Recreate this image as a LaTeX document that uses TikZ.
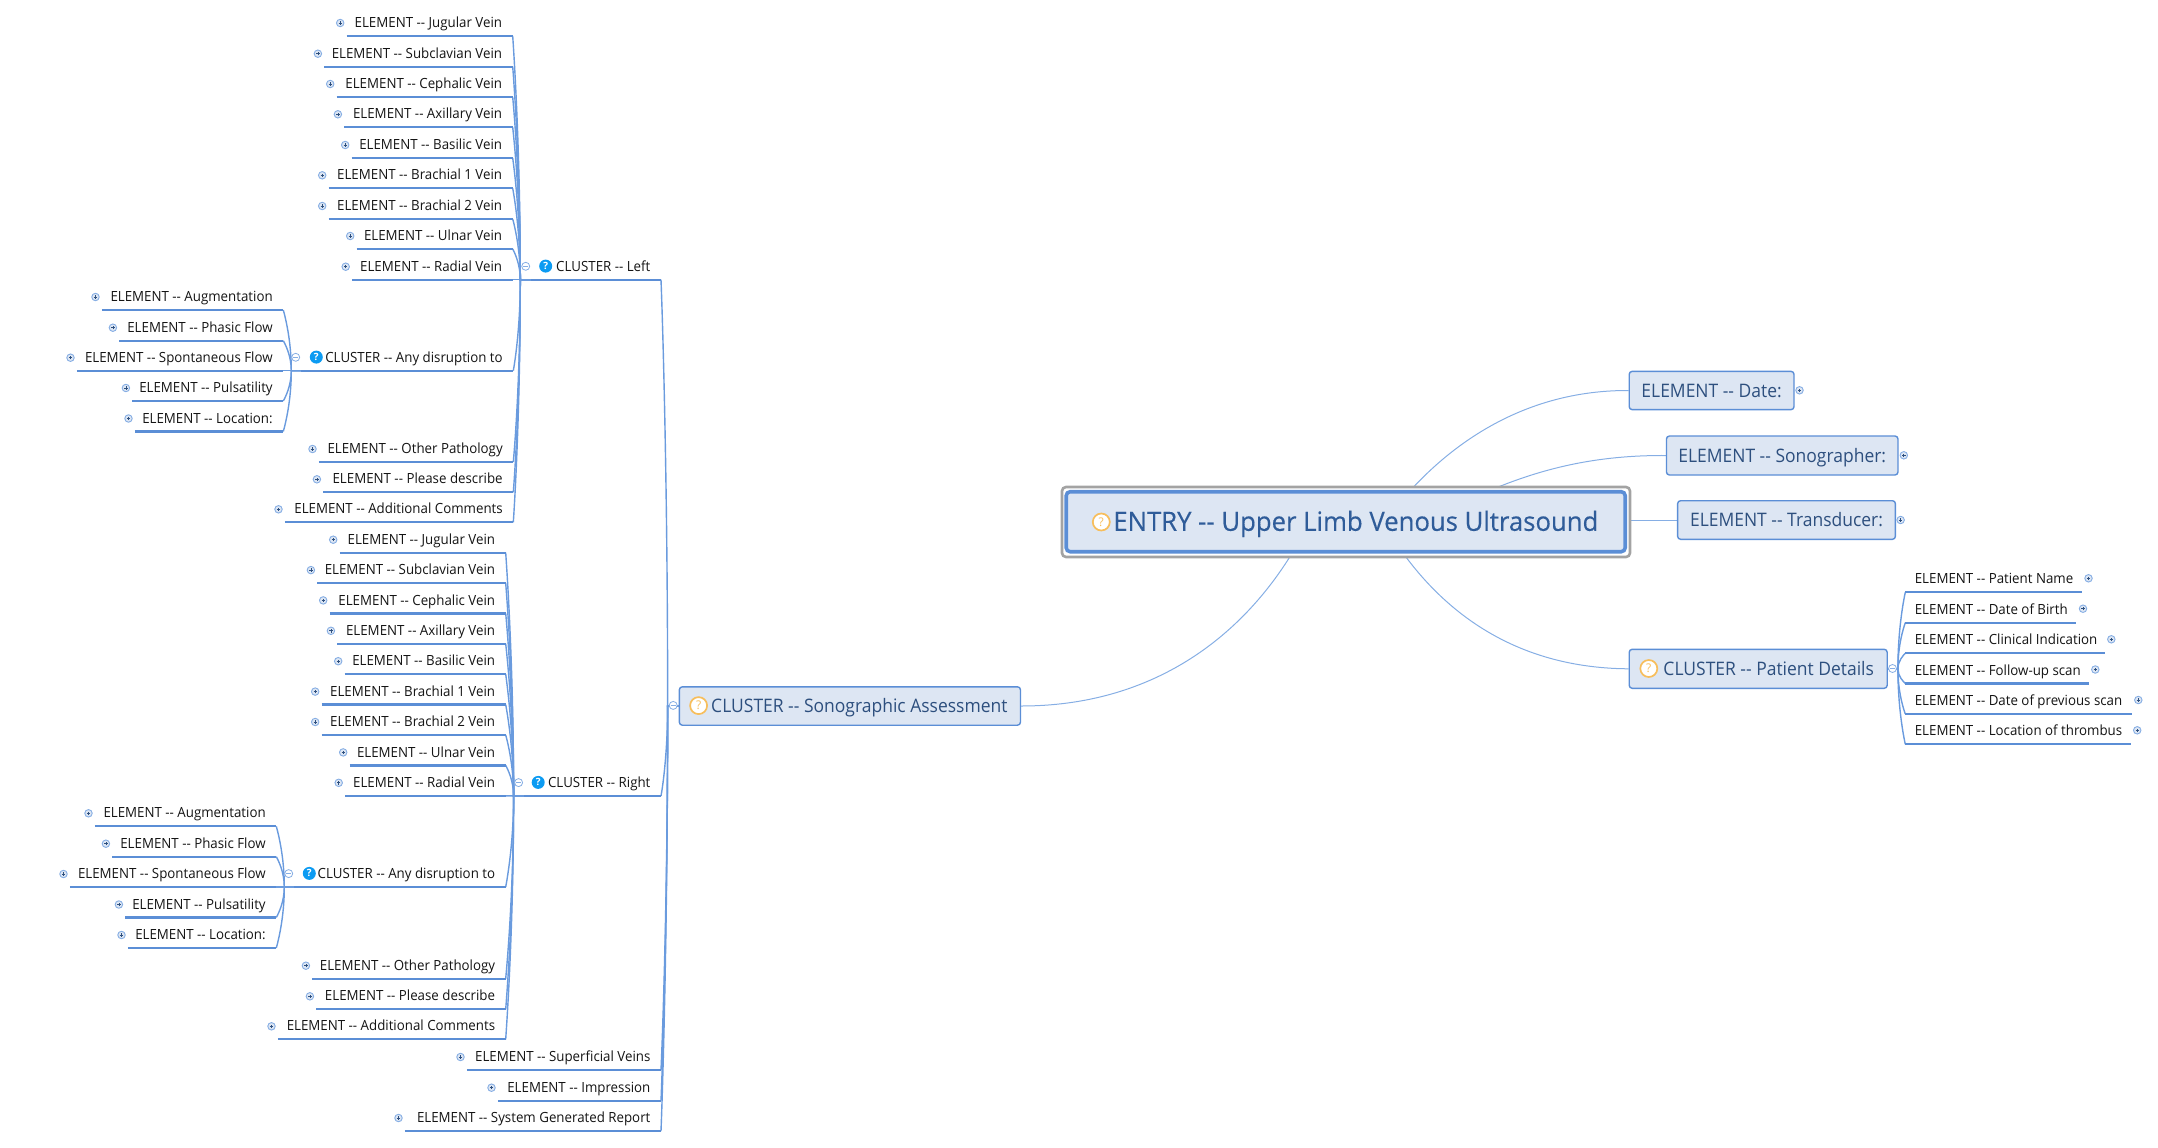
\documentclass[tikz,border=0pt]{standalone}
\usepackage{fontspec}
\setmainfont{Open Sans}
\newfontfamily\elemfont{Open Sans}[FakeStretch=0.95]
\newfontfamily\boxfont{Open Sans}[FakeStretch=0.94]
\newfontfamily\rootfont{Open Sans}[FakeStretch=0.97,FakeBold=0.35]
\usetikzlibrary{calc,backgrounds}
\definecolor{strokeb}{HTML}{5B8ED6}
\definecolor{connb}{HTML}{6A9BDE}
\definecolor{thinb}{HTML}{86AEE4}
\definecolor{boxfill}{HTML}{DDE6F3}
\definecolor{boxtext}{HTML}{2D4F7E}
\definecolor{roottext}{HTML}{2F5C99}
\definecolor{iconorange}{HTML}{F7BE5C}
\definecolor{iconblue}{HTML}{0C9BF2}
\definecolor{elemtext}{HTML}{141414}
\tikzset{
  x=1pt,y=-1pt,
  elem/.style={inner sep=0pt,inner xsep=10.4pt,text height=14pt,text depth=8.2pt,text=elemtext,font=\elemfont\fontsize{14}{16}\selectfont},
  elemL/.style={elem,anchor=south east},
  elemR/.style={elem,anchor=south west,inner xsep=9.3pt},
  uline/.style={draw=strokeb,line width=2.3pt},
  treeline/.style={draw=connb,line width=1.4pt},
  rootline/.style={draw=thinb,line width=1pt},
  plusicon/.style={circle,inner sep=0pt,minimum size=7.5pt,draw=thinb,line width=.9pt,fill=boxfill,
    path picture={\draw[draw=boxtext,line width=.7pt]
      ([xshift=-1.7pt]path picture bounding box.center)--([xshift=1.7pt]path picture bounding box.center)
      ([yshift=-1.7pt]path picture bounding box.center)--([yshift=1.7pt]path picture bounding box.center);}},
  minusicon/.style={circle,inner sep=0pt,minimum size=8pt,draw=thinb,line width=.8pt,fill=white,
    path picture={\draw[draw=thinb,line width=.8pt]
      ([xshift=-2.5pt]path picture bounding box.center)--([xshift=2.5pt]path picture bounding box.center);}},
  qblue/.style={circle,inner sep=0pt,minimum size=13pt,fill=iconblue,text=white,font=\fontsize{10}{10}\selectfont\bfseries},
  qorange/.style={circle,inner sep=0pt,minimum size=17pt,draw=iconorange,line width=1.7pt,fill=white,text=iconorange,font=\fontsize{12}{12}\selectfont},
  topbox/.style={rectangle,rounded corners=3pt,draw=strokeb,line width=1.4pt,fill=boxfill,text=boxtext,inner sep=0pt,text height=18pt,text depth=4.6pt,font=\boxfont\fontsize{18.6}{22}\selectfont},
  rootbox/.style={rectangle,rounded corners=4pt,draw=strokeb,line width=3.6pt,fill=boxfill,text=roottext,inner sep=0pt,text height=24pt,text depth=5.8pt,font=\rootfont\fontsize{26.5}{30}\selectfont},
  rootframe/.style={rectangle,rounded corners=4pt,draw=black!36,line width=2.6pt,fill=white,inner sep=0pt},
}
% left-growing element: name, text, left, right, underline y
\newcommand\lel[5]{%
  \pgfmathsetmacro\wid{#4-(#3)-20.8}%
  \node[elemL] (#1) at (#4,#5) {\makebox[\wid pt][r]{#2}};
  \draw[uline] (#1.south west)--(#1.south east);
  \node[plusicon] (#1i) at (#3-6.8,#5-13) {};
}
% right-growing element: name, text, left, right, underline y
\newcommand\rel[5]{%
  \pgfmathsetmacro\wid{#4-(#3)-18.6}%
  \node[elemR] (#1) at (#3,#5) {\makebox[\wid pt][l]{#2}};
  \draw[uline] (#1.south west)--(#1.south east);
  \node[plusicon] (#1i) at (#4+7,#5-14) {};
}
% left-growing cluster: name, text, left, right, y, blue-icon x
\newcommand\lcl[6]{%
  \pgfmathsetmacro\wid{#4-(#3)-20.8}%
  \node[elemL] (#1) at (#4,#5) {\makebox[\wid pt][r]{#2}};
  \draw[uline] (#1.south west)--(#1.south east);
  \node[qblue] (#1q) at (#6,#5-13.6) {?};
  \node[minusicon] (#1m) at (#3-6,#5-13.4) {};
}
% tree connector: from, to, trunk offset from start, end-bend offset
\newcommand\treeconn[4]{%
  \draw[treeline] let \p1=(#1),\p2=(#2) in
    (\p1)--(\x1+#3pt,\y1)
    .. controls (\x1+#3pt,{\y1+0.5*(\y2-\y1)}) and (\x2+#4pt,{\y2-0.12*(\y2-\y1)}) .. (\p2);
}
\begin{document}
\begin{tikzpicture}
\useasboundingbox (0,0) rectangle (2158,1148);
% root
\node[rootframe,minimum width=568pt,minimum height=70pt] (rootf) at (1346,522) {};
\node[rootbox,minimum width=559pt,minimum height=60pt] (root) at (1345.7,521.7) {\makebox[505.2pt][r]{ENTRY -{}- Upper Limb Venous Ultrasound}};
\node[qorange] (rootq) at (1101.3,522) {?};
% first-level boxes
\node[topbox,minimum width=164.8pt,minimum height=38.3pt] (date) at (1711.6,390.5) {ELEMENT -{}- Date:};
\node[plusicon] (datei) at (1799.5,390.3) {};
\node[topbox,minimum width=231.5pt,minimum height=39pt] (sono) at (1782.2,455.5) {ELEMENT -{}- Sonographer:};
\node[plusicon] (sonoi) at (1903.8,455.3) {};
\node[topbox,minimum width=217.8pt,minimum height=38.6pt] (trans) at (1786.5,520) {ELEMENT -{}- Transducer:};
\node[plusicon] (transi) at (1900.6,520) {};
\node[topbox,minimum width=258pt,minimum height=39pt] (pat) at (1758.2,668.8) {\makebox[231.6pt][r]{CLUSTER -{}- Patient Details}};
\node[qorange] (patq) at (1648.8,668.5) {?};
\node[minusicon] (patm) at (1892.5,668.5) {};
\node[topbox,minimum width=341.1pt,minimum height=38.4pt] (asse) at (849.9,706) {\makebox[315.2pt][r]{CLUSTER -{}- Sonographic Assessment}};
\node[qorange] (asseq) at (698.6,705.6) {?};
\node[minusicon] (assem) at (673.2,705.4) {};
% patient details children
\rel{pa}{ELEMENT -{}- Patient Name}{1905.3}{2081.5}{592.3}
\rel{pb}{ELEMENT -{}- Date of Birth}{1905.3}{2076}{622.7}
\rel{pc}{ELEMENT -{}- Clinical Indication}{1905.3}{2104.3}{653.3}
\rel{pd}{ELEMENT -{}- Follow-up scan}{1905.3}{2088.3}{683.5}
\rel{pe}{ELEMENT -{}- Date of previous scan}{1905.3}{2131.3}{714}
\rel{pf}{ELEMENT -{}- Location of thrombus}{1905.3}{2130.2}{744.3}
% left branch
\lcl{L}{CLUSTER -{}- Left}{531.7}{661}{279.7}{545.7}
\lel{la}{ELEMENT -{}- Jugular Vein}{347}{512.7}{36}
\lel{lb}{ELEMENT -{}- Subclavian Vein}{324.7}{512.7}{66.7}
\lel{lc}{ELEMENT -{}- Cephalic Vein}{337}{512.7}{97}
\lel{ld}{ELEMENT -{}- Axillary Vein}{344.7}{512.7}{127.3}
\lel{le}{ELEMENT -{}- Basilic Vein}{352}{512.7}{158}
\lel{lf}{ELEMENT -{}- Brachial 1 Vein}{329}{512.7}{188.3}
\lel{lg}{ELEMENT -{}- Brachial 2 Vein}{329}{512.7}{219}
\lel{lh}{ELEMENT -{}- Ulnar Vein}{357}{512.7}{249}
\lel{li}{ELEMENT -{}- Radial Vein}{352.5}{512.7}{279.7}
\lcl{LD}{CLUSTER -{}- Any disruption to}{301.7}{513.3}{370.7}{316.3}
\lel{lda}{ELEMENT -{}- Augmentation}{102.3}{283.3}{310}
\lel{ldb}{ELEMENT -{}- Phasic Flow}{119.7}{283.3}{340.7}
\lel{ldc}{ELEMENT -{}- Spontaneous Flow}{77.3}{283.3}{370.7}
\lel{ldd}{ELEMENT -{}- Pulsatility}{132.7}{283.3}{401}
\lel{lde}{ELEMENT -{}- Location:}{135.3}{283.3}{431.5}
\lel{lj}{ELEMENT -{}- Other Pathology}{319.3}{513.3}{462}
\lel{lk}{ELEMENT -{}- Please describe}{323.7}{513.3}{492.3}
\lel{ll}{ELEMENT -{}- Additional Comments}{285.3}{513.3}{522.3}
% right branch
\lcl{R}{CLUSTER -{}- Right}{524.6}{661}{796}{538.2}
\lel{ra}{ELEMENT -{}- Jugular Vein}{340}{505.7}{552.7}
\lel{rb}{ELEMENT -{}- Subclavian Vein}{317.7}{505.7}{583.1}
\lel{rc}{ELEMENT -{}- Cephalic Vein}{330}{505.7}{613.4}
\lel{rd}{ELEMENT -{}- Axillary Vein}{337.7}{505.7}{643.8}
\lel{re}{ELEMENT -{}- Basilic Vein}{345}{505.7}{674.2}
\lel{rf}{ELEMENT -{}- Brachial 1 Vein}{322}{505.7}{704.6}
\lel{rg}{ELEMENT -{}- Brachial 2 Vein}{322}{505.7}{735}
\lel{rh}{ELEMENT -{}- Ulnar Vein}{350}{505.7}{765.4}
\lel{ri}{ELEMENT -{}- Radial Vein}{345.5}{505.7}{795.8}
\lcl{RD}{CLUSTER -{}- Any disruption to}{294.7}{505.7}{887}{309.3}
\lel{rda}{ELEMENT -{}- Augmentation}{95.3}{276.3}{826.3}
\lel{rdb}{ELEMENT -{}- Phasic Flow}{112.7}{276.3}{856.7}
\lel{rdc}{ELEMENT -{}- Spontaneous Flow}{70.3}{276.3}{887}
\lel{rdd}{ELEMENT -{}- Pulsatility}{125.7}{276.3}{917.5}
\lel{rde}{ELEMENT -{}- Location:}{128.3}{276.3}{948}
\lel{rj}{ELEMENT -{}- Other Pathology}{312.7}{505.7}{978.7}
\lel{rk}{ELEMENT -{}- Please describe}{316.7}{505.7}{1009.3}
\lel{rl}{ELEMENT -{}- Additional Comments}{278.3}{505.7}{1039.3}
% report items
\lel{sa}{ELEMENT -{}- Superficial Veins}{467.3}{661}{1070}
\lel{sb}{ELEMENT -{}- Impression}{498.3}{661}{1100.7}
\lel{sc}{ELEMENT -{}- System Generated Report}{405.3}{661}{1131}
% connectors
\begin{pgfonlayer}{background}
\draw[rootline] ([xshift=39pt]root.center) .. controls ([xshift=84.3pt,yshift=61.7pt]root.center) and ([xshift=164.3pt,yshift=131.7pt]root.center) .. (date.west);
\draw[rootline] ([xshift=91pt,yshift=6.7pt]root.center) .. controls ([xshift=161.3pt,yshift=41.7pt]root.center) and ([xshift=224.3pt,yshift=66.7pt]root.center) .. (sono.west);
\draw[rootline] (root.center |- trans.west) -- (trans.west);
\draw[rootline] ([xshift=37pt]root.center) .. controls ([xshift=82.3pt,yshift=-78.3pt]root.center) and ([xshift=158.3pt,yshift=-146.3pt]root.center) .. (pat.west);
\draw[rootline] ([xshift=-30.7pt,yshift=11.7pt]root.center) .. controls ([xshift=-80.7pt,yshift=-98.3pt]root.center) and ([xshift=-177.7pt,yshift=-184.3pt]root.center) .. (asse.east);
\foreach \c in {pa,pb,pc,pd,pe,pf} {\treeconn{pat.east}{\c.south west}{10}{-2}}
\foreach \c in {L,R,sa,sb,sc} {\treeconn{asse.west}{\c.south east}{-11}{2}}
\foreach \c in {la,lb,lc,ld,le,lf,lg,lh,li,LD,lj,lk,ll} {\treeconn{L.south west}{\c.south east}{-11}{2}}
\foreach \c in {lda,ldb,ldc,ldd,lde} {\treeconn{LD.south west}{\c.south east}{-10}{2}}
\foreach \c in {ra,rb,rc,rd,re,rf,rg,rh,ri,RD,rj,rk,rl} {\treeconn{R.south west}{\c.south east}{-10.6}{2}}
\foreach \c in {rda,rdb,rdc,rdd,rde} {\treeconn{RD.south west}{\c.south east}{-10}{2}}
\end{pgfonlayer}
\end{tikzpicture}
\end{document}
